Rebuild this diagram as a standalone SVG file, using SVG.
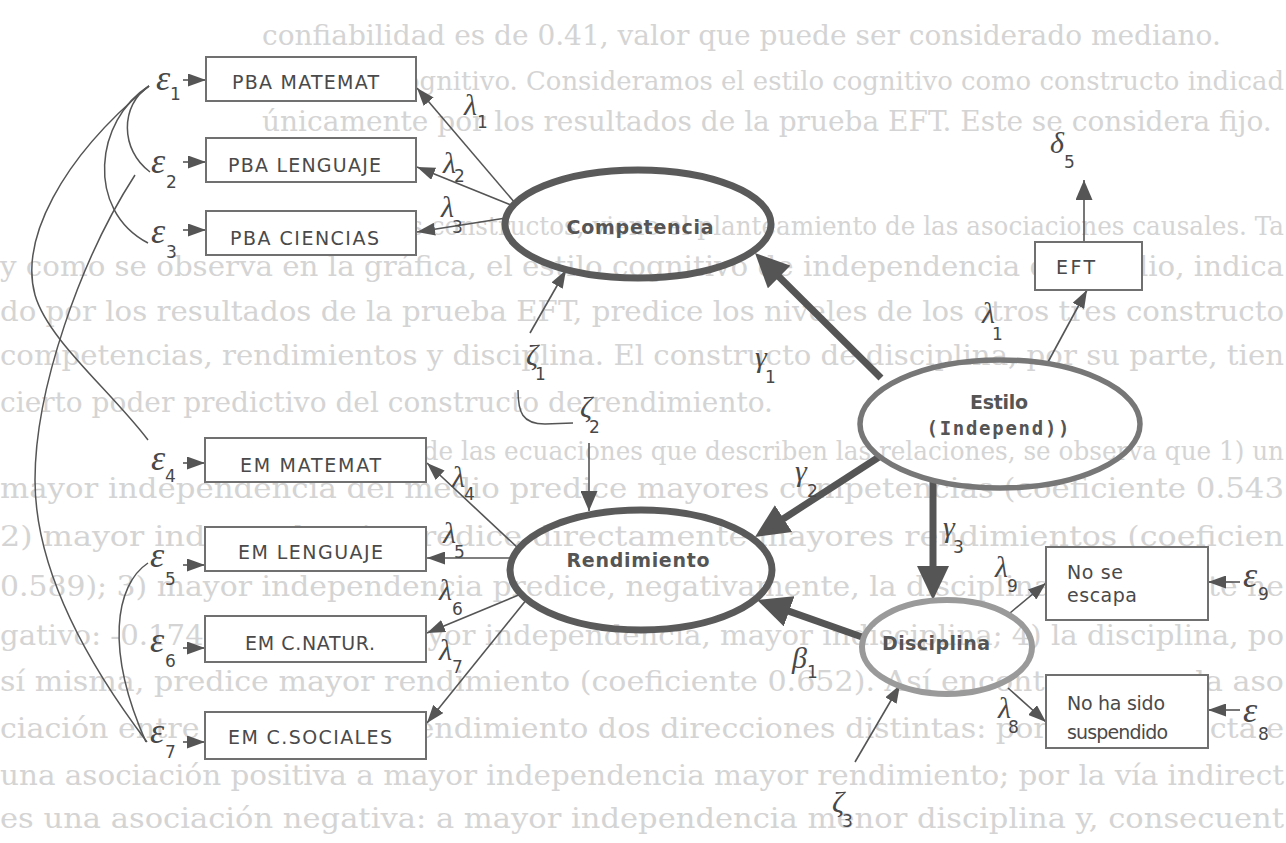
<svg xmlns="http://www.w3.org/2000/svg" width="1286" height="843" viewBox="0 0 1286 843">
<defs>
<style>
.bg{font-family:"DejaVu Serif","Liberation Serif",serif;font-size:28px;fill:#d4d4d4}
.bgs{font-size:26px}
.box{fill:#fff;stroke:#707070;stroke-width:2}
.bt{font-family:"DejaVu Sans",sans-serif;font-size:19px;fill:#4a4a4a}
.el{fill:none}
.et{font-family:"DejaVu Sans",sans-serif;font-weight:bold;font-size:19px;fill:#555;text-anchor:middle}
.mono{font-family:"DejaVu Sans Mono",monospace;font-weight:bold;font-size:19px;fill:#555;text-anchor:middle}
.thin{stroke:#555;stroke-width:1.6;fill:none}
.thick{stroke:#555;stroke-width:7;fill:none}
.cov{stroke:#555;stroke-width:1.5;fill:none}
.g{font-family:"Liberation Serif","DejaVu Serif",serif;font-style:italic;font-size:30px;fill:#484848}
.ge{font-size:36px}
.s{font-family:"DejaVu Sans",sans-serif;font-style:normal;font-size:17px;fill:#484848}
</style>
<marker id="ah" markerUnits="userSpaceOnUse" markerWidth="18" markerHeight="13" refX="18" refY="6.5" orient="auto"><path d="M0,0 L18,6.5 L0,13 z" fill="#555"/></marker>
<marker id="ahM" markerUnits="userSpaceOnUse" markerWidth="20" markerHeight="17" refX="20" refY="8.5" orient="auto"><path d="M0,0 L20,8.5 L0,17 z" fill="#555"/></marker>
<marker id="ahT" markerUnits="userSpaceOnUse" markerWidth="34" markerHeight="32" refX="14" refY="16" orient="auto"><path d="M0,0 L34,16 L0,32 z" fill="#555"/></marker>
</defs>
<rect width="1286" height="843" fill="#fff"/>

<g id="page-text">
<text class="bg" x="262" y="45">confiabilidad es de 0.41, valor que puede ser considerado mediano.</text>
<text class="bg bgs" x="283" y="90" textLength="1001" lengthAdjust="spacingAndGlyphs">• Estilo cognitivo. Consideramos el estilo cognitivo como constructo indicad</text>
<text class="bg" x="262" y="131">únicamente por los resultados de la prueba EFT. Este se considera fijo.</text>
<text class="bg bgs" x="262" y="235" textLength="1022" lengthAdjust="spacingAndGlyphs">Definidos los constructos, viene el planteamiento de las asociaciones causales. Ta</text>
<text class="bg" x="0" y="276" textLength="1284" lengthAdjust="spacingAndGlyphs">y como se observa en la gráfica, el estilo cognitivo de independencia del medio, indica</text>
<text class="bg" x="0" y="321" textLength="1284" lengthAdjust="spacingAndGlyphs">do por los resultados de la prueba EFT, predice los niveles de los otros tres constructo</text>
<text class="bg" x="0" y="365" textLength="1284" lengthAdjust="spacingAndGlyphs">competencias, rendimientos y disciplina. El constructo de disciplina, por su parte, tien</text>
<text class="bg" x="0" y="412">cierto poder predictivo del constructo de rendimiento.</text>
<text class="bg bgs" x="262" y="460" textLength="1022" lengthAdjust="spacingAndGlyphs">En términos de las ecuaciones que describen las relaciones, se observa que 1) un</text>
<text class="bg" x="0" y="498" textLength="1284" lengthAdjust="spacingAndGlyphs">mayor independencia del medio predice mayores competencias (coeficiente 0.543</text>
<text class="bg" x="0" y="546" textLength="1284" lengthAdjust="spacingAndGlyphs">2) mayor independencia predice directamente mayores rendimientos (coeficien</text>
<text class="bg" x="0" y="596" textLength="1284" lengthAdjust="spacingAndGlyphs">0.589); 3) mayor independencia predice, negativamente, la disciplina (coeficiente ne</text>
<text class="bg" x="0" y="645" textLength="1284" lengthAdjust="spacingAndGlyphs">gativo: -0.174); esto es, a mayor independencia, mayor indisciplina; 4) la disciplina, po</text>
<text class="bg" x="0" y="691" textLength="1284" lengthAdjust="spacingAndGlyphs">sí misma, predice mayor rendimiento (coeficiente 0.652). Así encontramos en la aso</text>
<text class="bg" x="0" y="738" textLength="1284" lengthAdjust="spacingAndGlyphs">ciación entre el estilo y el rendimiento dos direcciones distintas: por la vía directa e</text>
<text class="bg" x="0" y="785" textLength="1284" lengthAdjust="spacingAndGlyphs">una asociación positiva a mayor independencia mayor rendimiento; por la vía indirect</text>
<text class="bg" x="0" y="828" textLength="1284" lengthAdjust="spacingAndGlyphs">es una asociación negativa: a mayor independencia menor disciplina y, consecuent</text>
</g>

<g id="connectors">
<path class="cov" d="M149,86 C60,160 20,240 35,295 C48,340 110,390 148,440"/>
<path class="cov" d="M135,175 C80,260 35,390 35,480 C35,580 100,680 147,742"/>
<path class="cov" d="M149,86 C120,105 120,150 150,172"/>
<path class="cov" d="M149,86 C95,120 85,210 148,243"/>
<path class="cov" d="M148,563 C115,585 105,650 146,742"/>
<path class="cov" d="M518,390 C518,412 522,424 545,424 L573,423"/>
<line class="thin" x1="183" y1="80" x2="206" y2="80" marker-end="url(#ah)"/>
<line class="thin" x1="183" y1="162" x2="206" y2="162" marker-end="url(#ah)"/>
<line class="thin" x1="183" y1="230" x2="206" y2="230" marker-end="url(#ah)"/>
<line class="thin" x1="183" y1="463" x2="205" y2="463" marker-end="url(#ah)"/>
<line class="thin" x1="183" y1="565" x2="205" y2="565" marker-end="url(#ah)"/>
<line class="thin" x1="183" y1="648" x2="205" y2="648" marker-end="url(#ah)"/>
<line class="thin" x1="183" y1="742" x2="205" y2="742" marker-end="url(#ah)"/>
<line class="thin" x1="1240" y1="582" x2="1208" y2="582" marker-end="url(#ah)"/>
<line class="thin" x1="1240" y1="710" x2="1208" y2="710" marker-end="url(#ah)"/>
<line class="thin" x1="515" y1="203" x2="417" y2="88" marker-end="url(#ah)"/>
<line class="thin" x1="511" y1="205" x2="417" y2="167" marker-end="url(#ah)"/>
<line class="thin" x1="506" y1="218" x2="417" y2="232" marker-end="url(#ah)"/>
<line class="thin" x1="519" y1="549" x2="427" y2="463" marker-end="url(#ah)"/>
<line class="thin" x1="512" y1="558" x2="427" y2="558" marker-end="url(#ah)"/>
<line class="thin" x1="521" y1="594" x2="427" y2="633" marker-end="url(#ah)"/>
<line class="thin" x1="527" y1="599" x2="427" y2="723" marker-end="url(#ah)"/>
<line class="thin" x1="1048" y1="362" x2="1087" y2="290" marker-end="url(#ah)"/>
<line class="thin" x1="1010" y1="613" x2="1046" y2="583" marker-end="url(#ah)"/>
<line class="thin" x1="1008" y1="688" x2="1046" y2="722" marker-end="url(#ah)"/>
<line class="thin" x1="1084" y1="242" x2="1084" y2="180" marker-end="url(#ahM)"/>
<line class="thin" x1="530" y1="333" x2="566" y2="270" marker-end="url(#ah)"/>
<line class="thin" x1="589" y1="443" x2="589" y2="511" marker-end="url(#ahM)"/>
<line class="thin" x1="855" y1="762" x2="900" y2="685" marker-end="url(#ah)"/>
<line class="thick" x1="881" y1="378" x2="769.2" y2="267.1" marker-end="url(#ahT)"/>
<line class="thick" x1="879" y1="457" x2="771.8" y2="526.2" marker-end="url(#ahT)"/>
<line class="thick" x1="933" y1="480" x2="933" y2="580" marker-end="url(#ahT)"/>
<line class="thick" x1="862" y1="637" x2="775.9" y2="606.6" marker-end="url(#ahT)"/>
</g>

<g id="node-pba-matemat"><rect class="box" x="206" y="57" width="210" height="44"/><text class="bt" x="232" y="89" textLength="147">PBA MATEMAT</text></g>
<g id="node-pba-lenguaje"><rect class="box" x="206" y="138" width="210" height="44"/><text class="bt" x="228" y="172" textLength="153">PBA LENGUAJE</text></g>
<g id="node-pba-ciencias"><rect class="box" x="206" y="211" width="210" height="44"/><text class="bt" x="230" y="245" textLength="149">PBA CIENCIAS</text></g>
<g id="node-em-matemat"><rect class="box" x="205" y="438" width="221" height="44"/><text class="bt" x="240" y="472" textLength="141">EM MATEMAT</text></g>
<g id="node-em-lenguaje"><rect class="box" x="205" y="527" width="221" height="44"/><text class="bt" x="238" y="559" textLength="145">EM LENGUAJE</text></g>
<g id="node-em-cnatur"><rect class="box" x="205" y="616" width="221" height="46"/><text class="bt" x="245" y="650" textLength="130">EM C.NATUR.</text></g>
<g id="node-em-csociales"><rect class="box" x="205" y="712" width="221" height="47"/><text class="bt" x="228" y="744" textLength="164">EM C.SOCIALES</text></g>
<g id="node-eft"><rect class="box" x="1035" y="242" width="107" height="48"/><text class="bt" x="1056" y="274" textLength="39">EFT</text></g>
<g id="node-no-se-escapa"><rect class="box" x="1046" y="547" width="162" height="73"/><text class="bt" x="1067" y="579" textLength="56">No se</text><text class="bt" x="1067" y="602" textLength="70">escapa</text></g>
<g id="node-no-ha-sido-suspendido"><rect class="box" x="1046" y="675" width="162" height="73"/><text class="bt" x="1067" y="710" textLength="98">No ha sido</text><text class="bt" x="1067" y="739" textLength="101">suspendido</text></g>

<g id="node-competencia"><ellipse class="el" cx="638" cy="224" rx="133" ry="54" stroke="#5a5a5a" stroke-width="7"/><text class="et" x="640" y="234" textLength="147">Competencia</text></g>
<g id="node-rendimiento"><ellipse class="el" cx="641" cy="570" rx="131" ry="60" stroke="#5a5a5a" stroke-width="7"/><text class="et" x="638" y="567" textLength="143">Rendimiento</text></g>
<g id="node-estilo"><ellipse class="el" cx="1000" cy="424" rx="140" ry="64" stroke="#777" stroke-width="5.5"/><text class="et" x="999" y="409" textLength="58">Estilo</text><text class="mono" x="998" y="435" textLength="143">(Independ))</text></g>
<g id="node-disciplina"><ellipse class="el" cx="947" cy="647" rx="85" ry="47" stroke="#9a9a9a" stroke-width="6"/><text class="et" x="936" y="650" textLength="108">Disciplina</text></g>

<g id="labels">
<text class="g ge" x="156" y="90">ε<tspan class="s" x="170" y="100">1</tspan></text>
<text class="g ge" x="151" y="173">ε<tspan class="s" x="166" y="188">2</tspan></text>
<text class="g ge" x="151" y="243">ε<tspan class="s" x="166" y="258">3</tspan></text>
<text class="g ge" x="151" y="470">ε<tspan class="s" x="165" y="482">4</tspan></text>
<text class="g ge" x="150" y="567">ε<tspan class="s" x="165" y="585">5</tspan></text>
<text class="g ge" x="150" y="652">ε<tspan class="s" x="165" y="667">6</tspan></text>
<text class="g ge" x="150" y="743">ε<tspan class="s" x="165" y="758">7</tspan></text>
<text class="g ge" x="1243" y="722">ε<tspan class="s" x="1258" y="740">8</tspan></text>
<text class="g ge" x="1243" y="587">ε<tspan class="s" x="1258" y="600">9</tspan></text>
<text class="g" x="1050" y="153">δ<tspan class="s" x="1064" y="168">5</tspan></text>
<text class="g" x="464" y="115">λ<tspan class="s" x="477" y="128">1</tspan></text>
<text class="g" x="443" y="173">λ<tspan class="s" x="454" y="182">2</tspan></text>
<text class="g" x="441" y="217">λ<tspan class="s" x="452" y="233">3</tspan></text>
<text class="g" x="452" y="487">λ<tspan class="s" x="464" y="500">4</tspan></text>
<text class="g" x="443" y="543">λ<tspan class="s" x="454" y="558">5</tspan></text>
<text class="g" x="439" y="600">λ<tspan class="s" x="452" y="615">6</tspan></text>
<text class="g" x="439" y="660">λ<tspan class="s" x="452" y="673">7</tspan></text>
<text class="g" x="982" y="323">λ<tspan class="s" x="992" y="340">1</tspan></text>
<text class="g" x="995" y="577">λ<tspan class="s" x="1007" y="592">9</tspan></text>
<text class="g" x="998" y="718">λ<tspan class="s" x="1008" y="733">8</tspan></text>
<text class="g" x="755" y="367">γ<tspan class="s" x="765" y="383">1</tspan></text>
<text class="g" x="795" y="481">γ<tspan class="s" x="807" y="497">2</tspan></text>
<text class="g" x="943" y="537">γ<tspan class="s" x="953" y="553">3</tspan></text>
<text class="g" x="526" y="365">ζ<tspan class="s" x="535" y="380">1</tspan></text>
<text class="g" x="580" y="417">ζ<tspan class="s" x="589" y="433">2</tspan></text>
<text class="g" x="832" y="812">ζ<tspan class="s" x="842" y="827">3</tspan></text>
<text class="g" x="792" y="668">β<tspan class="s" x="807" y="678">1</tspan></text>
</g>
</svg>
